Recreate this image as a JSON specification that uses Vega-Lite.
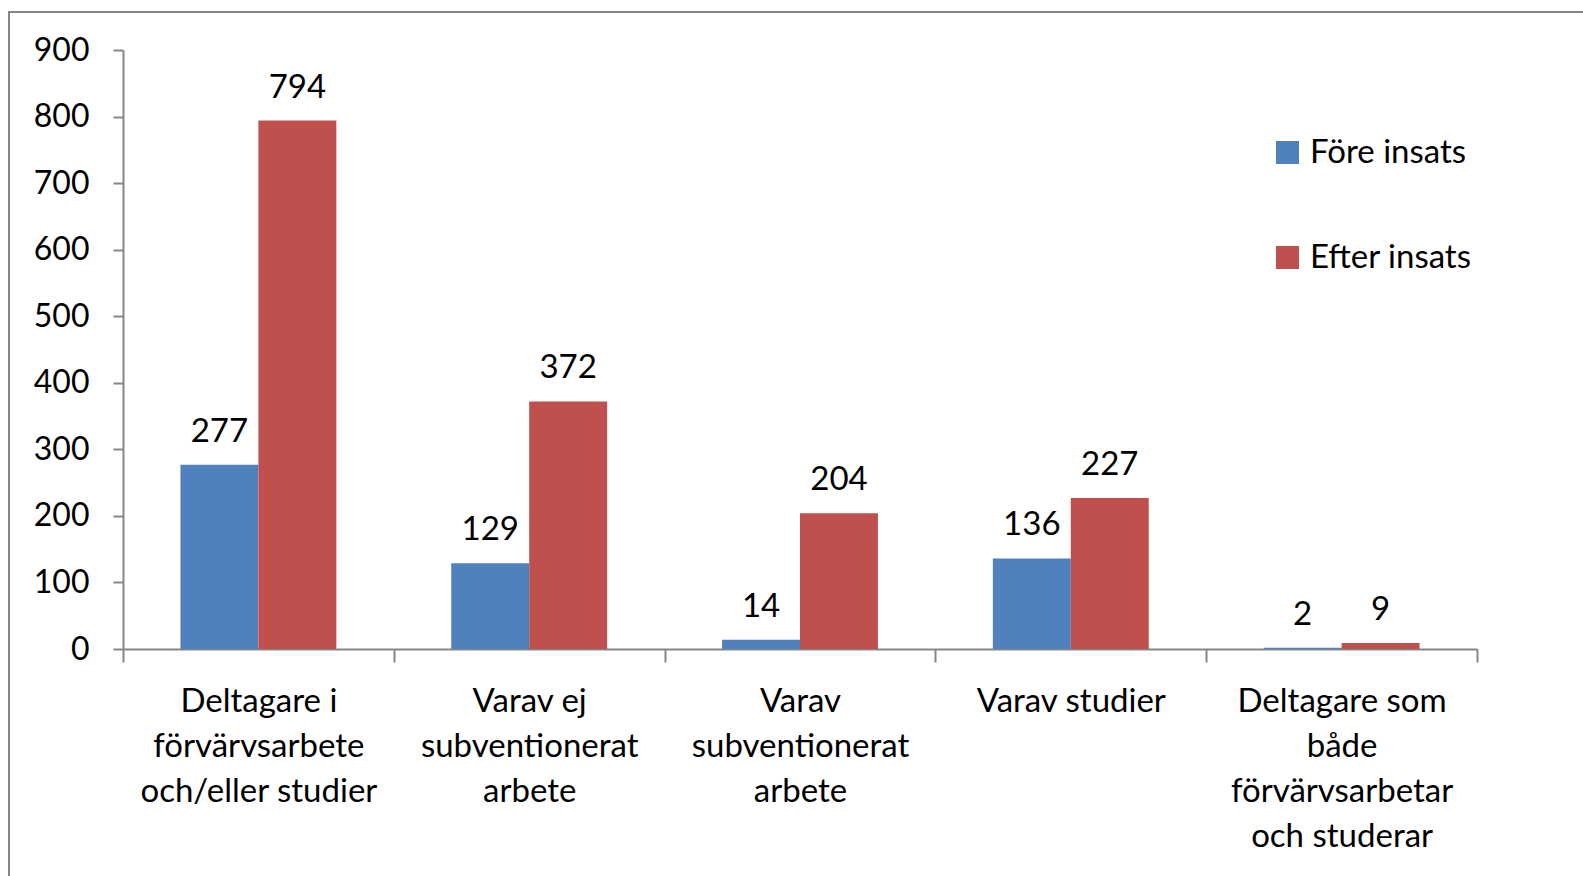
{
  "$schema": "https://vega.github.io/schema/vega-lite/v6.json",
  "width": 1580,
  "height": 870,
  "autosize": {"type": "none"},
  "padding": {"left": 9, "top": 12, "right": 0, "bottom": 0},
  "background": "white",
  "config": {
    "view": {"stroke": "#868686", "strokeWidth": 2},
    "font": "Lato",
    "axis": {"labelFont": "Lato", "labelColor": "black", "domainColor": "#868686", "tickColor": "#868686", "domainWidth": 2, "tickWidth": 2, "grid": false, "title": null}
  },
  "data": {
    "values": [
      {"cat": "Deltagare i|förvärvsarbete|och/eller studier", "serie": "Före insats", "v": 277},
      {"cat": "Deltagare i|förvärvsarbete|och/eller studier", "serie": "Efter insats", "v": 794},
      {"cat": "Varav ej|subventionerat|arbete", "serie": "Före insats", "v": 129},
      {"cat": "Varav ej|subventionerat|arbete", "serie": "Efter insats", "v": 372},
      {"cat": "Varav|subventionerat|arbete", "serie": "Före insats", "v": 14},
      {"cat": "Varav|subventionerat|arbete", "serie": "Efter insats", "v": 204},
      {"cat": "Varav studier", "serie": "Före insats", "v": 136},
      {"cat": "Varav studier", "serie": "Efter insats", "v": 227},
      {"cat": "Deltagare som|både|förvärvsarbetar|och studerar", "serie": "Före insats", "v": 2},
      {"cat": "Deltagare som|både|förvärvsarbetar|och studerar", "serie": "Efter insats", "v": 9}
    ]
  },
  "encoding": {
    "x": {
      "field": "cat", "type": "nominal",
      "sort": ["Deltagare i|förvärvsarbete|och/eller studier", "Varav ej|subventionerat|arbete", "Varav|subventionerat|arbete", "Varav studier", "Deltagare som|både|förvärvsarbetar|och studerar"],
      "scale": {"range": [114, 1468], "paddingInner": 0, "paddingOuter": 0},
      "axis": {"orient": "bottom", "offset": -233, "labelAngle": 0, "labelExpr": "isValid(datum.value) ? split(datum.value, '|') : ''", "labelFontSize": 33, "labelLineHeight": 45, "labelBaseline": "top", "labelPadding": 23, "tickSize": 13, "tickBand": "extent", "labelLimit": 400}
    },
    "xOffset": {"field": "serie", "type": "nominal", "sort": ["Före insats", "Efter insats"], "scale": {"paddingInner": 0, "paddingOuter": 0.737}},
    "y": {
      "field": "v", "type": "quantitative",
      "scale": {"domain": [0, 900], "range": [637, 38], "nice": false},
      "axis": {"orient": "left", "offset": -114, "values": [0, 100, 200, 300, 400, 500, 600, 700, 800, 900], "labelFontSize": 32, "tickSize": 10, "labelPadding": 24}
    }
  },
  "layer": [
    {
      "mark": {"type": "bar"},
      "encoding": {
        "color": {
          "field": "serie", "type": "nominal",
          "scale": {"domain": ["Före insats", "Efter insats"], "range": ["#4F81BD", "#C0504D"]},
          "legend": {"orient": "none", "legendX": 1262, "legendY": 124, "title": null, "symbolType": "square", "symbolSize": 529, "symbolStrokeWidth": 0, "labelFontSize": 33, "labelFont": "Lato", "labelColor": "black", "labelOffset": 6, "rowPadding": 71, "padding": 0, "labelLimit": 400}
        }
      }
    },
    {
      "mark": {"type": "text", "baseline": "bottom", "dy": -16, "fontSize": 33, "font": "Lato", "color": "black"},
      "encoding": {"text": {"field": "v", "type": "quantitative"}}
    }
  ]
}
